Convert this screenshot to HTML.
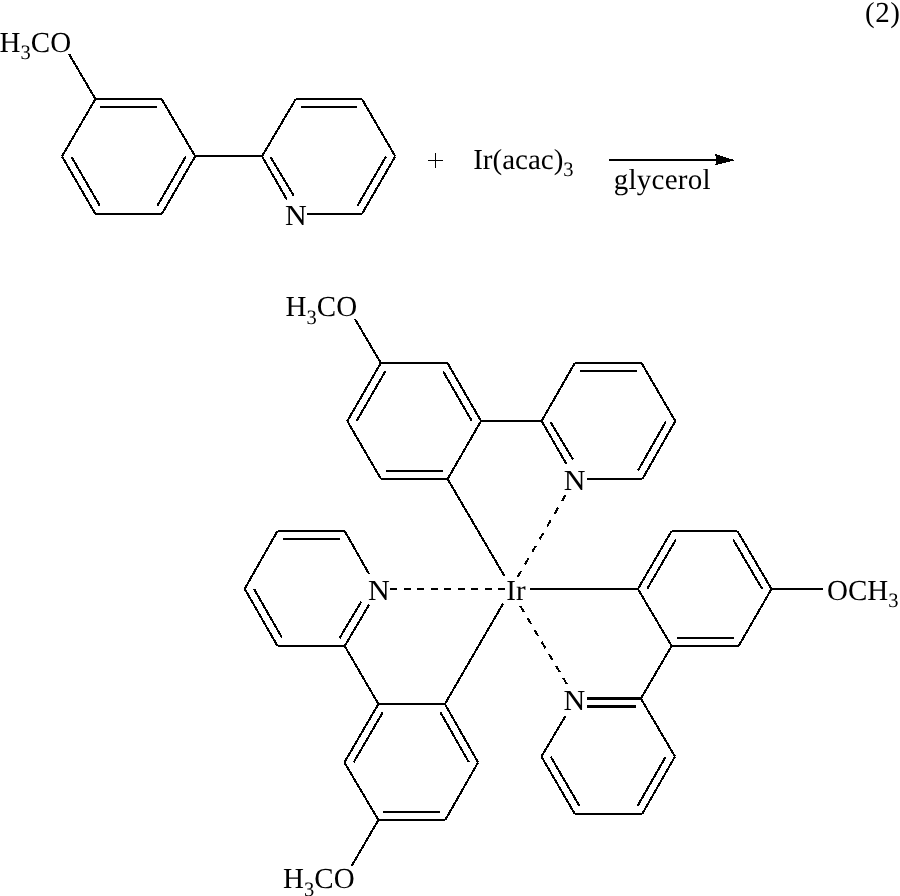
<!DOCTYPE html>
<html><head><meta charset="utf-8"><title>Reaction scheme (2)</title>
<style>
html,body{margin:0;padding:0;background:#fff;}
body{width:900px;height:896px;overflow:hidden;}
svg{display:block;will-change:transform;}
text{font-family:"Liberation Serif",serif;font-size:29px;fill:#000;stroke:none;text-rendering:geometricPrecision;}
.sub{font-size:20.5px;}
line,path{stroke:#000;stroke-width:2.05;stroke-linecap:butt;fill:none;shape-rendering:crispEdges;}
</style></head><body>
<svg width="900" height="896" viewBox="0 0 900 896">
<rect x="0" y="0" width="900" height="896" fill="#fff" stroke="none"/>
<line x1="95.4" y1="99.0" x2="161.6" y2="99.0"/>
<line x1="161.6" y1="99.0" x2="195.2" y2="156.3"/>
<line x1="195.2" y1="156.3" x2="161.8" y2="214.0"/>
<line x1="161.8" y1="214.0" x2="95.4" y2="214.0"/>
<line x1="95.4" y1="214.0" x2="62.0" y2="156.4"/>
<line x1="62.0" y1="156.4" x2="95.4" y2="99.0"/>
<line x1="100.4" y1="107.0" x2="156.6" y2="107.0"/>
<line x1="185.8" y1="156.6" x2="157.4" y2="205.7"/>
<line x1="99.8" y1="205.7" x2="71.4" y2="156.7"/>
<line x1="95.4" y1="99.0" x2="69.0" y2="53.9"/>
<line x1="195.2" y1="156.0" x2="262.0" y2="156.0"/>
<line x1="262.0" y1="156.3" x2="295.8" y2="99.0"/>
<line x1="295.8" y1="99.0" x2="361.9" y2="99.0"/>
<line x1="361.9" y1="99.0" x2="395.3" y2="156.4"/>
<line x1="395.3" y1="156.4" x2="361.9" y2="214.0"/>
<line x1="361.9" y1="214.0" x2="307.1" y2="214.0"/>
<line x1="262.0" y1="156.3" x2="286.9" y2="199.6"/>
<line x1="270.6" y1="157.3" x2="293.8" y2="195.7"/>
<line x1="300.8" y1="107.0" x2="356.9" y2="107.0"/>
<line x1="385.9" y1="156.7" x2="357.5" y2="205.7"/>
<line x1="609.0" y1="160.0" x2="718.0" y2="160.0"/>
<line x1="380.8" y1="363.0" x2="447.5" y2="363.0"/>
<line x1="447.5" y1="363.0" x2="481.0" y2="421.0"/>
<line x1="481.0" y1="421.0" x2="447.6" y2="479.0"/>
<line x1="447.6" y1="479.0" x2="381.0" y2="479.0"/>
<line x1="381.0" y1="479.0" x2="347.3" y2="421.1"/>
<line x1="347.3" y1="421.1" x2="380.8" y2="363.0"/>
<line x1="356.7" y1="420.8" x2="385.3" y2="371.3"/>
<line x1="443.1" y1="371.3" x2="471.6" y2="420.7"/>
<line x1="386.0" y1="471.0" x2="442.6" y2="471.0"/>
<line x1="380.8" y1="363.0" x2="354.9" y2="318.9"/>
<line x1="481.0" y1="421.0" x2="541.6" y2="421.0"/>
<line x1="541.6" y1="421.0" x2="574.8" y2="363.0"/>
<line x1="574.8" y1="363.0" x2="641.5" y2="363.0"/>
<line x1="641.5" y1="363.0" x2="675.3" y2="421.1"/>
<line x1="675.3" y1="421.1" x2="642.4" y2="479.0"/>
<line x1="642.4" y1="479.0" x2="587.2" y2="479.0"/>
<line x1="541.6" y1="421.0" x2="566.3" y2="463.8"/>
<line x1="550.4" y1="421.7" x2="573.0" y2="459.4"/>
<line x1="579.8" y1="371.0" x2="636.5" y2="371.0"/>
<line x1="665.9" y1="421.5" x2="637.9" y2="470.7"/>
<line x1="447.6" y1="479.0" x2="504.5" y2="576.1"/>
<line stroke-dasharray="7.10 7.60" x1="565.6" y1="495.0" x2="517.4" y2="577.2"/>
<line stroke-dasharray="7.10 6.40" x1="390.1" y1="589.0" x2="505.2" y2="589.0"/>
<line x1="530.0" y1="589.0" x2="637.9" y2="589.0"/>
<line x1="671.6" y1="531.0" x2="737.4" y2="531.0"/>
<line x1="737.4" y1="531.0" x2="771.5" y2="589.0"/>
<line x1="771.5" y1="589.0" x2="738.6" y2="646.0"/>
<line x1="738.6" y1="646.0" x2="671.6" y2="646.0"/>
<line x1="671.6" y1="646.0" x2="637.9" y2="589.0"/>
<line x1="637.9" y1="589.0" x2="671.6" y2="531.0"/>
<line x1="647.3" y1="588.7" x2="676.0" y2="539.3"/>
<line x1="733.0" y1="539.3" x2="762.1" y2="588.8"/>
<line x1="676.6" y1="638.0" x2="733.6" y2="638.0"/>
<line x1="771.5" y1="589.0" x2="823.1" y2="589.0"/>
<line x1="671.6" y1="646.0" x2="640.9" y2="698.6"/>
<line x1="640.9" y1="698.6" x2="675.0" y2="756.5"/>
<line x1="675.0" y1="756.5" x2="642.2" y2="814.0"/>
<line x1="642.2" y1="814.0" x2="574.9" y2="814.0"/>
<line x1="574.9" y1="814.0" x2="541.4" y2="756.5"/>
<line x1="541.4" y1="756.5" x2="565.7" y2="715.7"/>
<line style="stroke-width:3" x1="587.0" y1="698.5" x2="641.4" y2="698.5"/>
<line style="stroke-width:3" x1="587.0" y1="706.5" x2="636.1" y2="706.5"/>
<line x1="665.6" y1="756.8" x2="637.7" y2="805.7"/>
<line x1="579.3" y1="805.7" x2="550.8" y2="756.8"/>
<line stroke-dasharray="7.10 6.85" x1="520.3" y1="606.0" x2="566.8" y2="684.0"/>
<line x1="277.5" y1="531.0" x2="344.7" y2="531.0"/>
<line x1="344.7" y1="531.0" x2="369.1" y2="574.1"/>
<line x1="369.1" y1="604.7" x2="344.7" y2="646.0"/>
<line x1="344.7" y1="646.0" x2="277.5" y2="646.0"/>
<line x1="277.5" y1="646.0" x2="244.7" y2="588.8"/>
<line x1="244.7" y1="588.8" x2="277.5" y2="531.0"/>
<line x1="361.3" y1="601.6" x2="339.4" y2="638.4"/>
<line x1="282.5" y1="539.0" x2="339.7" y2="539.0"/>
<line x1="254.1" y1="589.1" x2="282.0" y2="637.7"/>
<line x1="344.7" y1="646.0" x2="378.4" y2="704.0"/>
<line x1="378.4" y1="704.0" x2="444.9" y2="704.0"/>
<line x1="444.9" y1="704.0" x2="478.1" y2="762.4"/>
<line x1="478.1" y1="762.4" x2="445.2" y2="820.0"/>
<line x1="445.2" y1="820.0" x2="378.4" y2="820.0"/>
<line x1="378.4" y1="820.0" x2="344.4" y2="762.4"/>
<line x1="344.4" y1="762.4" x2="378.4" y2="704.0"/>
<line x1="382.8" y1="712.3" x2="353.8" y2="762.1"/>
<line x1="440.4" y1="712.3" x2="468.7" y2="762.0"/>
<line x1="383.4" y1="812.0" x2="440.2" y2="812.0"/>
<line x1="378.4" y1="820.0" x2="351.5" y2="866.2"/>
<line x1="444.9" y1="704.0" x2="503.2" y2="603.4"/>
<path d="M715,154 L735.2,160.3 L715,165.3 L716.8,159.8 Z" style="fill:#000;stroke:none"/>
<text x="-0.4" y="51.9">H<tspan class="sub" dy="7.5">3</tspan><tspan dy="-7.5">CO</tspan></text>
<text x="285.0" y="224.7" textLength="21.8" lengthAdjust="spacingAndGlyphs">N</text>
<text x="473.2" y="168.6">Ir(acac)<tspan class="sub" dy="7">3</tspan></text>
<text x="613.8" y="189.0" letter-spacing="0.25">glycerol</text>
<text x="865" y="21.6" letter-spacing="0.5">(2)</text>
<text x="285.6" y="315.7">H<tspan class="sub" dy="8">3</tspan><tspan dy="-8">CO</tspan></text>
<text x="563.7" y="490" textLength="21.8" lengthAdjust="spacingAndGlyphs">N</text>
<text x="506.3" y="599.9">Ir</text>
<text x="367.9" y="600" textLength="21.8" lengthAdjust="spacingAndGlyphs">N</text>
<text x="563.5" y="710" textLength="21.8" lengthAdjust="spacingAndGlyphs">N</text>
<text x="827" y="600">OCH<tspan class="sub" dy="7">3</tspan></text>
<text x="283.1" y="888.0">H<tspan class="sub" dy="8.2">3</tspan><tspan dy="-8.2">CO</tspan></text>
<line x1="427.9" y1="160.5" x2="443" y2="160.5" style="stroke-width:1.3"/>
<line x1="435.5" y1="153" x2="435.5" y2="168" style="stroke-width:1.3"/>
</svg></body></html>
